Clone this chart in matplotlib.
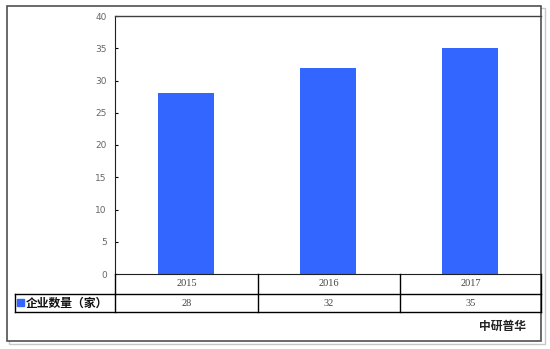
import matplotlib
matplotlib.use('Agg')
import matplotlib.pyplot as plt
from matplotlib.patches import Rectangle
from matplotlib.lines import Line2D

years = ['2015', '2016', '2017']
counts = [28, 32, 35]
series_name = '企业数量（家）'
source = '中研普华'
yticks = [0, 5, 10, 15, 20, 25, 30, 35, 40]

BLUE = '#3366ff'
W, H = 550, 349

plt.rcParams['font.family'] = ['Noto Sans CJK SC', 'DejaVu Sans']

fig = plt.figure(figsize=(5.5, 3.49), dpi=100)


def fx(px):
    return px / W


def fy(py):
    return 1 - py / H


# outer frame, with a light shadow (kept behind the axes)
fig.add_artist(Rectangle((fx(9), fy(344)), fx(545) - fx(9), fy(8) - fy(344),
                         transform=fig.transFigure, fill=False, lw=1.0, ec='#c8c8c8',
                         zorder=-10))
fig.add_artist(Rectangle((fx(7), fy(341)), fx(541) - fx(7), fy(6) - fy(341),
                         transform=fig.transFigure, fc='white', lw=1.2, ec='#505050',
                         zorder=-5))

ax = fig.add_axes([fx(115), fy(274), fx(541) - fx(115), fy(16) - fy(274)])
ax.patch.set_alpha(0)
x = range(len(years))
ax.bar(x, counts, width=0.4, color=BLUE)
ax.set_xlim(-0.5, len(years) - 0.5)
ax.set_ylim(0, 40)
ax.set_yticks(yticks)
ax.set_yticklabels([str(t) for t in yticks], fontsize=6.5, color='#666666',
                   family='DejaVu Sans')
ax.tick_params(axis='y', direction='in', length=2.5, width=0.8, pad=6)
ax.set_xticks([])
for s in ['top', 'right']:
    ax.spines[s].set_visible(False)
ax.spines['left'].set_color('#202020')
ax.spines['bottom'].set_color('#202020')
fig.add_artist(Line2D([fx(115), fx(541)], [fy(16), fy(16)],
                      transform=fig.transFigure, color='#404040', lw=1.0))

# data table under the axis
row1_top, row1_bot, row2_bot = 274, 294, 312
col_edges = [115, 258, 400, 541]
lw = 1.0
fig.add_artist(Line2D([fx(115), fx(541)], [fy(row1_bot)] * 2, transform=fig.transFigure, color='k', lw=lw))
fig.add_artist(Line2D([fx(15), fx(541)], [fy(row2_bot)] * 2, transform=fig.transFigure, color='k', lw=lw))
fig.add_artist(Line2D([fx(15), fx(115)], [fy(row1_bot)] * 2, transform=fig.transFigure, color='k', lw=lw))
fig.add_artist(Line2D([fx(15), fx(15)], [fy(row1_bot), fy(row2_bot)], transform=fig.transFigure, color='k', lw=lw))
for cx in col_edges:
    fig.add_artist(Line2D([fx(cx), fx(cx)], [fy(row1_top), fy(row2_bot)],
                          transform=fig.transFigure, color='k', lw=lw))

for i, (yr, v) in enumerate(zip(years, counts)):
    cx = (col_edges[i] + col_edges[i + 1]) / 2
    fig.text(fx(cx), fy((row1_top + row1_bot) / 2), yr, ha='center', va='center',
             fontsize=7.5, color='#444444', family='Liberation Serif')
    fig.text(fx(cx), fy((row1_bot + row2_bot) / 2), str(v), ha='center', va='center',
             fontsize=7.5, color='#444444', family='Liberation Serif')

# legend key in table
fig.add_artist(Rectangle((fx(17), fy(306)), fx(7), fy(299) - fy(306),
                         transform=fig.transFigure, color=BLUE))
fig.text(fx(26), fy((row1_bot + row2_bot) / 2), series_name, ha='left', va='center',
         fontsize=8.5, fontweight='bold', color='#111111')

fig.text(fx(526), fy(326), source, ha='right', va='center',
         fontsize=8.5, fontweight='bold', color='#222222')

plt.savefig('out.png', dpi=100)
plt.close()
